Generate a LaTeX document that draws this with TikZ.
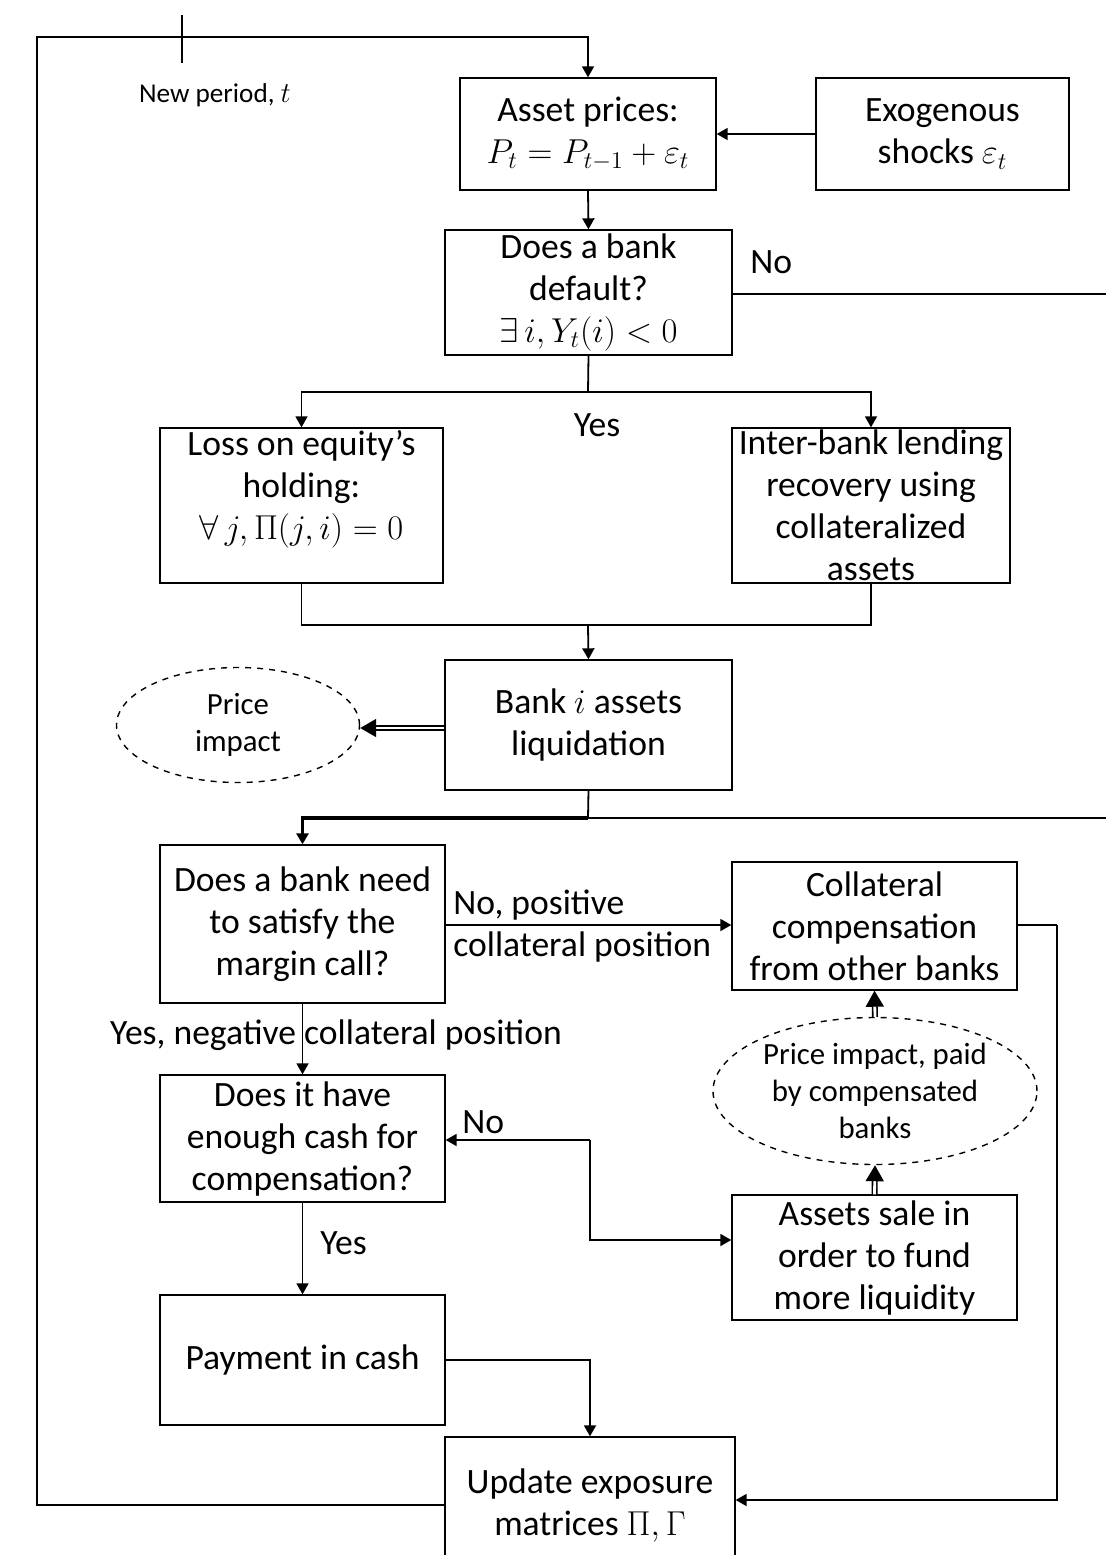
\documentclass[tikz,border=0pt]{standalone}
\usepackage{fontspec}
\setmainfont{Carlito}
\usetikzlibrary{arrows.meta,shapes.geometric}
\tikzset{
  base/.style={font=\fontsize{17.8}{21}\selectfont, align=center, inner sep=0pt},
  box/.style={base, draw, line width=0.7pt, rectangle},
  oval/.style={draw, dashed, line width=0.7pt, ellipse, inner sep=0pt, align=center, font=\fontsize{15.4}{18.7}\selectfont},
  lbl/.style={base},
  conn/.style={line width=0.9pt},
  arr/.style={conn, -{Triangle[length=5.5pt,width=6pt]}},
  dbl/.style={line width=0.8pt, double, double distance=1.4pt, -{Triangle[length=8pt,width=9pt]}}
}
\begin{document}
\begin{tikzpicture}[x=0.5pt,y=-0.5pt]
\useasboundingbox (0,0) rectangle (1106,1555);
\clip (0,0) rectangle (1106,1555);
% boxes
\node[box, minimum width=128pt, minimum height=56pt] (asset) at (588,134) {Asset prices:\\ $P_t = P_{t-1} + \varepsilon_t$};
\node[box, minimum width=126.5pt, minimum height=56pt] (exo) at (942.5,134) {Exogenous\\ shocks $\varepsilon_t$};
\node[box, minimum width=143.5pt, minimum height=62.5pt] (default) at (588.5,292.5) {Does a bank\\ default?\\ $\exists\, i, Y_t(i) < 0$};
\node[box, minimum width=141.5pt, minimum height=77.5pt] (loss) at (301.5,505.5) {Loss on equity’s\\ holding:\\ $\forall\, j, \Pi(j,i) = 0$\\ \mbox{}};
\node[box, minimum width=139pt, minimum height=77.5pt] (inter) at (871,505.5) {Inter-bank lending\\ recovery using\\ collateralized\\ assets};
\node[box, minimum width=143.5pt, minimum height=65pt] (bank) at (588.5,725) {Bank $i$ assets\\ liquidation};
\node[oval, minimum width=121.5pt, minimum height=57.5pt] (pi1) at (238,725) {Price\\ impact};
\node[box, minimum width=142.5pt, minimum height=79pt] (margin) at (302.5,924) {Does a bank need\\ to satisfy the\\ margin call?};
\node[box, minimum width=142.5pt, minimum height=64pt] (coll) at (874.5,926) {Collateral\\ compensation\\ from other banks};
\node[oval, minimum width=162pt, minimum height=73.5pt] (pi2) at (875,1091) {Price impact, paid\\ by compensated\\ banks};
\node[box, minimum width=142.5pt, minimum height=63.5pt] (doesit) at (302.5,1138.5) {Does it have\\ enough cash for\\ compensation?};
\node[box, minimum width=142.5pt, minimum height=62.5pt] (sale) at (874.5,1257.5) {Assets sale in\\ order to fund\\ more liquidity};
\node[box, minimum width=142.5pt, minimum height=65pt] (pay) at (302.5,1360) {Payment in cash};
\node[box, minimum width=145pt, minimum height=68pt] (upd) at (590,1505) {Update exposure\\ matrices $\Pi,\Gamma$};
% labels
\node[lbl, font=\fontsize{13.6}{16}\selectfont] (newp) at (215,95) {New period, $t$};
\node[lbl, anchor=west] (lno1) at (750,262) {No};
\node[lbl] (lyes1) at (597,425) {Yes};
\node[lbl, anchor=west] (lno2a) at (453,905) {No, positive};
\node[lbl, anchor=west] (lno2b) at (453,947) {collateral position};
\node[lbl] (lyes2) at (336,1035) {Yes, negative collateral position};
\node[lbl, anchor=west] (lno3) at (462,1122) {No};
\node[lbl, anchor=west] (lyes3) at (320,1243) {Yes};
% coordinates
\coordinate (cTL) at (37,37);
\coordinate (tickA) at (182,15);
\coordinate (tickB) at (182,63);
\coordinate (eNo) at (1106,294);
\coordinate (split) at (588,392);
\coordinate (merge) at (588,625);
\coordinate (dist) at (588,818);
\coordinate (eBank) at (1106,818);
\coordinate (cR) at (1057,925);
\coordinate (cNo) at (590,1140);
% connectors
\draw[arr] (upd.west) -| (cTL) -| (asset.north);
\draw[conn] (tickA) -- (tickB);
\draw[arr] (exo.west) -- (asset.east);
\draw[arr] (asset.south) -- (default.north);
\draw[conn] (default.east |- eNo) -- (eNo);
\draw[conn] (default.south) -- (split);
\draw[arr] (split) -| (loss.north);
\draw[arr] (split) -| (inter.north);
\draw[conn] (loss.south) |- (merge);
\draw[conn] (inter.south) |- (merge);
\draw[arr] (merge) -- (bank.north);
\draw[dbl] (bank.west |- 0,728) -- (pi1.east |- 0,728);
\draw[conn] (bank.south) -- (dist);
\draw[conn] (dist) -- (eBank);
\draw[arr, line width=1.6pt] (dist) -| (margin.north);
\draw[arr] (margin.east |- 0,925) -- (coll.west |- 0,925);
\draw[conn] (coll.east |- cR) -- (cR);
\draw[arr] (cR) |- (upd.east |- 0,1500);
\draw[arr] (margin.south) -- (doesit.north);
\draw[arr] (cNo) -- (doesit.east |- cNo);
\draw[arr] (cNo) |- (sale.west |- 0,1240);
\draw[dbl] (sale.north) -- (pi2.south);
\draw[dbl] (pi2.north) -- (coll.south);
\draw[arr] (doesit.south) -- (pay.north);
\draw[arr] (pay.east) -| (upd.north);
\end{tikzpicture}
\end{document}
